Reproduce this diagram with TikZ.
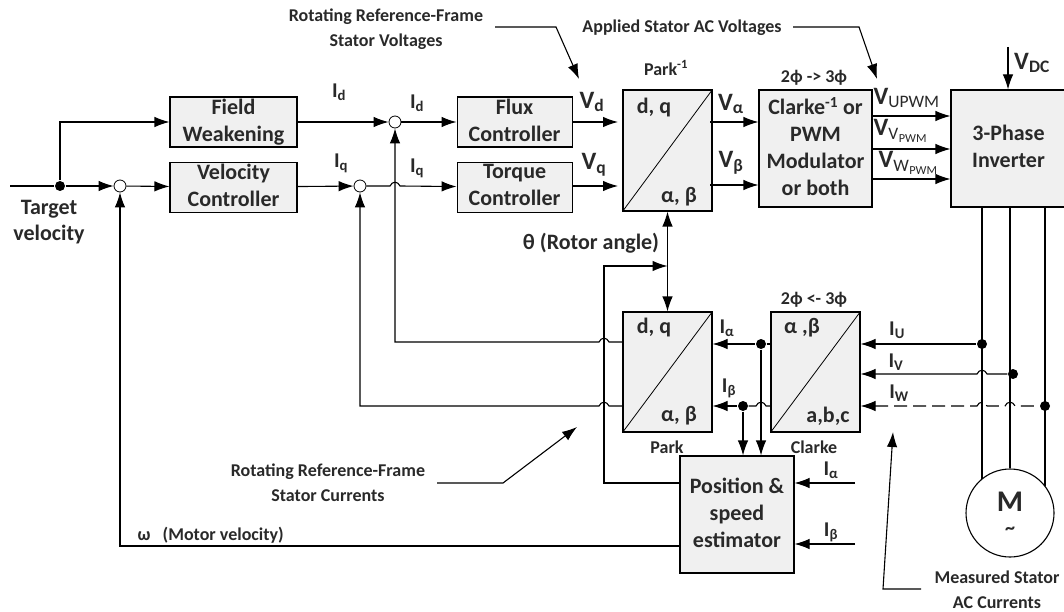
\documentclass[tikz,border=0pt]{standalone}
\usepackage{fontspec}
\setmainfont{Carlito}
\usetikzlibrary{arrows.meta,positioning}
\definecolor{boxfill}{gray}{0.94}
\definecolor{ink}{gray}{0.16}
\newcommand{\hop}[2]{-- (#1-5,#2) .. controls (#1-3,#2-5) and (#1+3,#2-5) .. (#1+5,#2)}
\newcommand{\sub}[1]{\textsubscript{#1}}
\begin{document}
\begin{tikzpicture}[x=1pt,y=-1pt,node distance=14pt and 159pt,line width=1.1pt,
box/.style={draw,fill=boxfill,align=center,inner xsep=1pt,inner ysep=0pt,font=\fontsize{22}{27}\bfseries\selectfont,text=ink,execute at begin node=\rule{0pt}{17pt},execute at end node=\vphantom{Fg}},
ctrl/.style={box,minimum width=127pt,minimum height=50pt},
conv/.style={box,minimum width=89pt,minimum height=120pt},
arr/.style={-{Latex[length=15pt,width=10.5pt]}},
rarr/.style={{Latex[length=15pt,width=10.5pt]}-},
both/.style={{Latex[length=15pt,width=10.5pt]}-{Latex[length=15pt,width=10.5pt]}},
sum/.style={circle,draw,fill=white,inner sep=0pt,minimum size=12pt,line width=0.8pt},
dot/.style={circle,fill=black,inner sep=0pt,minimum size=10pt},
sig/.style={font=\fontsize{21}{23}\bfseries\selectfont,text=ink,inner sep=0pt},
volt/.style={font=\fontsize{25}{27}\bfseries\selectfont,text=ink,inner sep=0pt},
note/.style={font=\fontsize{18}{25}\bfseries\selectfont,text=ink,align=center,inner sep=0pt},
conn/.style={font=\fontsize{22}{24}\bfseries\selectfont,text=ink,inner sep=0pt},
pointer/.style={arr,line width=1.1pt}]
\useasboundingbox (0,0) rectangle (1064,612);
% upper row
\node[ctrl] (field) at (233.5,122) {Field\\Weakening};
\node[ctrl,below=of field] (velocity) {Velocity\\Controller};
\node[ctrl,minimum width=115pt,right=of field] (flux) {Flux\\Controller};
\node[ctrl,minimum width=115pt,below=of flux] (torque) {Torque\\Controller};
\node[conv,minimum height=121pt] (parkinv) at (667.5,150.5) {};
\node[box,minimum width=113pt,minimum height=117pt] (clarkeinv) at (815.5,148.5) {Clarke\textsuperscript{-1} or\\PWM\\Modulator\\or both};
\node[box,minimum width=115pt,minimum height=117pt] (inverter) at (1008.5,148.5) {3-Phase\\Inverter};
% lower row
\node[conv] (park) at (667.5,372) {};
\node[conv] (clarke) at (815.5,372) {};
\node[box,minimum width=114pt,minimum height=117pt] (estimator) at (737,514.5) {Position \&\\speed\\estimator};
\node[circle,draw,fill=white,minimum size=88pt,inner sep=0pt] (motor) at (1010,513) {};
\draw[line width=0.8pt] (parkinv.south west) -- (parkinv.north east);
\draw[line width=0.8pt] (park.south west) -- (park.north east);
\draw[line width=0.8pt] (clarke.south west) -- (clarke.north east);
% junctions
\node[dot] (target) at (60,186) {};
\node[sum] (sumv) at (120,186) {};
\node[sum] (sumq) at (360,186) {};
\node[sum] (sumd) at (395,122) {};
\node[dot] (dota) at (761,344) {};
\node[dot] (dotb) at (743,406) {};
\node[dot] (dotu) at (982,344) {};
\node[dot] (dotv) at (1013,374) {};
\node[dot] (dotw) at (1045,406) {};
% free ends
\coordinate (start) at (10,186);
\coordinate (idout) at (623,342);
\coordinate (iqout) at (623,406);
\coordinate (omegaout) at (680,546);
\coordinate (thetaleft) at (604,266);
\coordinate (thetaright) at (667.5,266);
\coordinate (thetaout) at (680,483);
\coordinate (alphain) at (855,483);
\coordinate (betain) at (855,544);
\coordinate (vdcin) at (1008,47);
\coordinate (vdfrom) at (573,122);
\coordinate (vdto) at (618,122);
\coordinate (vqfrom) at (573,186);
\coordinate (vqto) at (618,186);
\coordinate (vafrom) at (710,122);
\coordinate (vbfrom) at (710,185);
\coordinate (pwmu) at (872,116);
\coordinate (pwmv) at (872,149);
\coordinate (pwmw) at (872,179);
% forward path
\draw (start) -- (target);
\draw[arr] (target) -- (sumv);
\draw[arr] (target) -- (target |- field) -- (field);
\draw[arr] (sumv) -- (velocity);
\draw[arr] (velocity) -- (sumq);
\draw[arr] (field) -- (sumd);
\draw[arr] (sumd) -- (flux);
\draw[arr] (sumq) \hop{395}{186} -- (torque);
\draw[arr] (vdfrom) -- (vdto);
\draw[arr] (vqfrom) -- (vqto);
\draw[arr] (vafrom) -- (clarkeinv.west |- vafrom);
\draw[arr] (vbfrom) -- (clarkeinv.west |- vbfrom);
\draw[arr] (pwmu) -- (inverter.west |- pwmu);
\draw[arr] (pwmv) -- (inverter.west |- pwmv);
\draw[arr] (pwmw) -- (inverter.west |- pwmw);
\draw[arr] (vdcin) -- (vdcin |- inverter.north);
% feedback
\draw[rarr] (sumd) -- (sumd |- idout) \hop{604}{342} -- (idout);
\draw[rarr] (sumq) -- (sumq |- iqout) \hop{604}{406} -- (iqout);
\draw[rarr] (sumv) -- (sumv |- omegaout) -- (omegaout);
\draw[both] (parkinv.south) -- (park.north);
\draw[arr] (thetaout) -- (thetaleft |- thetaout) -- (thetaleft) -- (thetaright);
\draw[rarr] (park.east |- dota) -- (dota);
\draw (dota) -- (clarke.west |- dota);
\draw[rarr] (park.east |- dotb) -- (dotb);
\draw (dotb) \hop{761}{406} -- (clarke.west |- dotb);
\draw[arr] (dota) -- (dota |- estimator.north);
\draw[arr] (dotb) -- (dotb |- estimator.north);
\draw[arr] (alphain) -- (estimator.east |- alphain);
\draw[arr] (betain) -- (estimator.east |- betain);
\draw[rarr] (clarke.east |- dotu) -- (dotu);
\draw[rarr] (clarke.east |- dotv) \hop{982}{374} -- (dotv);
\draw[rarr,dashed,dash pattern=on 13pt off 6pt] (clarke.east |- dotw) \hop{982}{406} \hop{1010}{406} -- (dotw);
% motor leads
\draw (dotu |- inverter.south) -- (dotu |- motor.130);
\draw (motor |- inverter.south) -- (motor.north);
\draw (dotw |- inverter.south) -- (dotw |- motor.38);
% notes
\node[note] (vrefnote) at (386,29) {Rotating Reference-Frame\\Stator Voltages};
\node[note] (acnote) at (682,28) {Applied Stator AC Voltages};
\node[note] (irefnote) at (328,483) {Rotating Reference-Frame\\Stator Currents};
\node[note] (measnote) at (997,590) {Measured Stator\\AC Currents};
\coordinate (vrefa) at (495,27);
\coordinate (vrefb) at (556,27);
\coordinate (vrefc) at (579,79);
\coordinate (aca) at (793,27);
\coordinate (acb) at (859,27);
\coordinate (acc) at (877,79);
\coordinate (irefa) at (437,483);
\coordinate (irefb) at (503,483);
\coordinate (irefc) at (577,427);
\coordinate (meas) at (921,589);
\coordinate (measb) at (883,589);
\coordinate (measc) at (893,432);
\draw[pointer] (vrefa) -- (vrefb) -- (vrefc);
\draw[pointer] (aca) -- (acb) -- (acc);
\draw[pointer] (irefa) -- (irefb) -- (irefc);
\draw[pointer] (meas) -- (measb) -- (measc);
% labels
\node[conn,align=center,font=\fontsize{22}{26}\bfseries\selectfont] (targetlbl) at (49,222) {Target\\velocity};
\node[sig] (idin) at (339,92) {I\sub{d}};
\node[sig] (idsum) at (417,103) {I\sub{d}};
\node[sig] (iqin) at (341,163) {I\sub{q}};
\node[sig] (iqsum) at (417,168) {I\sub{q}};
\node[volt] (vd) at (592,102) {V\sub{d}};
\node[volt] (vq) at (594,165) {V\sub{q}};
\node[volt] (valpha) at (731,104) {V\sub{α}};
\node[volt] (vbeta) at (731,163) {V\sub{β}};
\node[volt,anchor=west] (vu) at (873,98) {V\sub{\textmd{UPWM}}};
\node[volt,anchor=west] (vv) at (873,131) {V\textmd{\sub{V}\sub{\sub{PWM}}}};
\node[volt,anchor=west] (vw) at (878,163) {V\textmd{\sub{W}\sub{\sub{PWM}}}};
\node[volt] (vdc) at (1032,63) {V\sub{DC}};
\node[conn] (dqa) at (654,108) {d, q};
\node[conn] (abza) at (679,197) {α, β};
\node[conn] (dqb) at (654,328) {d, q};
\node[conn] (abzb) at (679,416) {α, β};
\node[conn] (abzc) at (802,328) {α ,β};
\node[conn] (abc) at (828,416) {a,b,c};
\node[note] (parkinvlbl) at (666,68) {Park\textsuperscript{-1}};
\node[note] (parklbl) at (667,447) {Park};
\node[note] (clarkelbl) at (814,447) {Clarke};
\node[note] (upconv) at (814,78) {2ϕ -> 3ϕ};
\node[note] (downconv) at (814,300) {2ϕ <- 3ϕ};
\node[conn] (theta) at (591,243) {θ (Rotor angle)};
\node[sig] (ia) at (727,328) {I\sub{α}};
\node[sig] (ib) at (729,388) {I\sub{β}};
\node[sig] (iu) at (897,330) {I\sub{U}};
\node[sig] (iv) at (896,362) {I\sub{V}};
\node[sig] (iw) at (899,393) {I\sub{W}};
\node[sig] (iap) at (831,470) {I\sub{α}};
\node[sig] (ibp) at (831,532) {I\sub{β}};
\node[note,anchor=west] (omega) at (137,535) {ω\ \ \ (Motor velocity)};
\node[font=\fontsize{30}{30}\bfseries\selectfont,text=ink,inner sep=0pt] (mlbl) at (1010,502) {M};
\node[font=\fontsize{20}{20}\bfseries\selectfont,text=ink,inner sep=0pt] (tilde) at (1010,531) {\textasciitilde};
\end{tikzpicture}
\end{document}
